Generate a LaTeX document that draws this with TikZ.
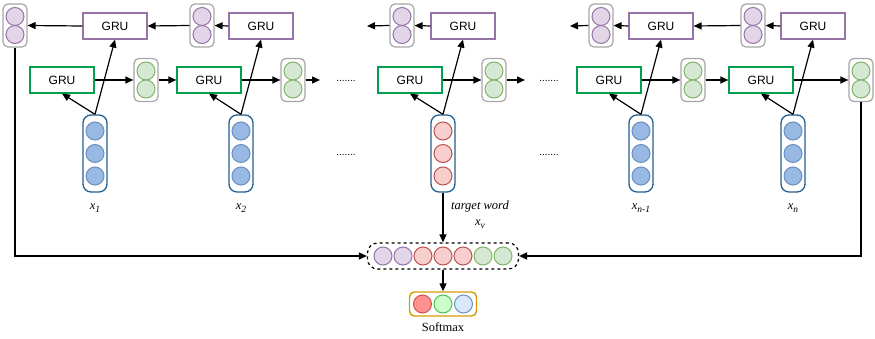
\documentclass[tikz,border=0pt]{standalone}
\usepackage{fontspec}
\setmainfont{Liberation Serif}
\newfontfamily\arialf{Liberation Sans}
\usetikzlibrary{arrows.meta}
\definecolor{pstroke}{HTML}{9673A6}
\definecolor{pfill}{HTML}{E1D5E7}
\definecolor{gstroke}{HTML}{82B366}
\definecolor{gfill}{HTML}{D5E8D4}
\definecolor{grubox}{HTML}{00A050}
\definecolor{bstroke}{HTML}{6C8EBF}
\definecolor{bfill}{HTML}{99B9E5}
\definecolor{bbox}{HTML}{24608F}
\definecolor{rstroke}{HTML}{B85450}
\definecolor{rfill}{HTML}{F8CECC}
\definecolor{stkgray}{HTML}{A6A6A6}
\definecolor{smbox}{HTML}{D79B00}
\definecolor{smred}{HTML}{FF9191}
\definecolor{smredS}{HTML}{D05050}
\definecolor{smgreen}{HTML}{CCFFCC}
\definecolor{smgreenS}{HTML}{4CC24C}
\definecolor{smblue}{HTML}{DAE8FC}
\newcommand{\subx}[1]{\textit{x}\raisebox{-3.5pt}{\fontsize{9.5}{10}\selectfont\textit{#1}}}
\begin{document}
\begin{tikzpicture}[x=1pt,y=-1pt,
  grubase/.style={draw, line width=1.2pt, minimum width=64pt, minimum height=26pt, inner sep=0pt, font=\arialf\fontsize{12}{14}\selectfont},
  grup/.style={grubase, draw=pstroke},
  grug/.style={grubase, draw=grubox},
  stk/.style={draw=stkgray, line width=1.2pt, rounded corners=5pt, fill=white, minimum width=24pt, minimum height=43pt, inner sep=0pt},
  bstk/.style={draw=bbox, line width=1.3pt, rounded corners=8pt, fill=white, minimum width=24pt, minimum height=77pt, inner sep=0pt},
  cir/.style={circle, line width=1pt, minimum size=18pt, inner sep=0pt},
  pc/.style={cir, draw=pstroke, fill=pfill},
  gc/.style={cir, draw=gstroke, fill=gfill},
  bc/.style={cir, draw=bstroke, fill=bfill},
  rc/.style={cir, draw=rstroke, fill=rfill},
  arr/.style={line width=1.2pt, -{Triangle[length=8pt,width=7pt]}},
  lbl/.style={font=\fontsize{12.5}{14}\selectfont, inner sep=0pt},
  dotsl/.style={font=\arialf\fontsize{10}{12}\selectfont, inner sep=0pt, anchor=base}
]
\useasboundingbox (0,0) rectangle (875,339);

% purple stacks
\foreach \n/\x in {1/15,2/202,3/402,4/601,5/753}{
  \node[stk] (P\n) at (\x,25.5) {};
  \node[pc] (P\n a) at (\x,16.5) {};
  \node[pc] (P\n b) at (\x,34.5) {};
}
% green stacks
\foreach \n/\x in {1/146,2/293,3/494,4/693,5/861}{
  \node[stk] (G\n) at (\x,80) {};
  \node[gc] (G\n a) at (\x,71) {};
  \node[gc] (G\n b) at (\x,89) {};
}
% purple GRUs
\foreach \n/\x in {1/115,2/261,3/463,4/661,5/813}{
  \node[grup] (PG\n) at (\x,26) {GRU};
}
% green GRUs
\foreach \n/\x in {1/62,2/209,3/410,4/609,5/761}{
  \node[grug] (GG\n) at (\x,80) {GRU};
}
% blue input stacks
\foreach \n/\x in {1/95,2/241,4/641,5/793}{
  \node[bstk] (B\n) at (\x,153.5) {};
  \node[bc] (B\n a) at (\x,131) {};
  \node[bc] (B\n b) at (\x,153.5) {};
  \node[bc] (B\n c) at (\x,176) {};
}
% red target stack
\node[bstk] (B3) at (443,153.5) {};
\node[rc] (B3a) at (443,131) {};
\node[rc] (B3b) at (443,153.5) {};
\node[rc] (B3c) at (443,176) {};

% labels
\node[lbl] (L1) at (95,208) {\subx{1}};
\node[lbl] (L2) at (241,208) {\subx{2}};
\node[lbl] (L4) at (641,208) {\subx{n-1}};
\node[lbl] (L5) at (793,208) {\subx{n}};
\node[lbl] (Lt) at (480,206) {\textit{target word}};
\node[lbl] (Lv) at (480,224) {\subx{v}};

% dots
\node[dotsl] (D1) at (346,82) {.......};
\node[dotsl] (D2) at (346,156) {.......};
\node[dotsl] (D3) at (549,82) {.......};
\node[dotsl] (D4) at (549,156) {.......};

% concatenation
\node[draw, dashed, line width=1.2pt, rounded corners=10pt, minimum width=151pt, minimum height=26pt, inner sep=0pt] (C) at (443,256) {};
\node[pc] (C1) at (383,256) {};
\node[pc] (C2) at (403,256) {};
\node[rc] (C3) at (423,256) {};
\node[rc] (C4) at (443,256) {};
\node[rc] (C5) at (463,256) {};
\node[gc] (C6) at (483,256) {};
\node[gc] (C7) at (503,256) {};

% softmax
\node[draw=smbox, line width=1.4pt, rounded corners=5pt, minimum width=67pt, minimum height=24pt, inner sep=0pt] (S) at (443,304) {};
\node[cir, draw=smredS, fill=smred] (S1) at (422.5,304) {};
\node[cir, draw=smgreenS, fill=smgreen] (S2) at (443,304) {};
\node[cir, draw=bstroke, fill=smblue] (S3) at (463.5,304) {};
\node[lbl] (SL) at (443,327) {Softmax};

% free ends
\coordinate (E1) at (367,26);
\coordinate (E2) at (570,26);
\coordinate (F1) at (320,80);
\coordinate (F2) at (525,80);

% purple row arrows
\draw[arr] (PG1.west) -- (P1.east);
\draw[arr] (P2.west) -- (PG1.east);
\draw[arr] (PG2.west) -- (P2.east);
\draw[arr] (PG3.west) -- (P3.east);
\draw[arr] (P3.west) -- (E1);
\draw[arr] (PG4.west) -- (P4.east);
\draw[arr] (P4.west) -- (E2);
\draw[arr] (PG5.west) -- (P5.east);
\draw[arr] (P5.west) -- (PG4.east);

% green row arrows
\draw[arr] (GG1.east) -- (G1.west);
\draw[arr] (G1.east) -- (GG2.west);
\draw[arr] (GG2.east) -- (G2.west);
\draw[arr] (G2.east) -- (F1);
\draw[arr] (GG3.east) -- (G3.west);
\draw[arr] (G3.east) -- (F2);
\draw[arr] (GG4.east) -- (G4.west);
\draw[arr] (G4.east) -- (GG5.west);
\draw[arr] (GG5.east) -- (G5.west);

% inputs
\foreach \n in {1,2,3,4,5}{
  \draw[arr] (B\n.north) -- (GG\n.south);
  \draw[arr] (B\n.north) -- (PG\n.south);
}

% to concatenation
\draw[arr] (B3.south) -- (C.north);
\draw[arr] (P1.south) |- (C.west);
\draw[arr] (G5.south) |- (C.east);
\draw[arr] (C.south) -- (S.north);
\end{tikzpicture}
\end{document}
